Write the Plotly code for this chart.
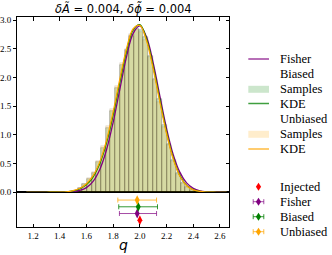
import plotly.graph_objects as go

# ---------------- data ----------------
bin_centers = [1.4475, 1.4825, 1.5175, 1.5525, 1.5875, 1.6225, 1.6575, 1.6925, 1.7275, 1.7625,
               1.7975, 1.8325, 1.8675, 1.9025, 1.9375, 1.9725, 2.0075, 2.0425, 2.0775, 2.1125,
               2.1475, 2.1825, 2.2175, 2.2525, 2.2875, 2.3225, 2.3575, 2.3925, 2.4275, 2.4625, 2.4975]
bin_width = 0.035
biased_hist = [0.005, 0.01, 0.03, 0.07, 0.14, 0.24, 0.33, 0.52, 0.78, 1.12,
               1.42, 1.82, 2.22, 2.48, 2.72, 2.85, 2.82, 2.70, 2.38, 1.98,
               1.62, 1.17, 0.85, 0.56, 0.33, 0.17, 0.09, 0.04, 0.015, 0.006, 0.002]
unbiased_hist = [0.006, 0.012, 0.03, 0.08, 0.15, 0.25, 0.36, 0.55, 0.80, 1.15,
                 1.45, 1.86, 2.25, 2.50, 2.76, 2.84, 2.80, 2.66, 2.35, 1.95,
                 1.58, 1.14, 0.82, 0.54, 0.32, 0.16, 0.085, 0.038, 0.014, 0.005, 0.002]

curve_q = [1.15, 1.20, 1.25, 1.30, 1.35, 1.40, 1.45, 1.50, 1.55, 1.60, 1.65, 1.70, 1.75, 1.80,
           1.85, 1.90, 1.95, 2.00, 2.05, 2.10, 2.15, 2.20, 2.25, 2.30, 2.35, 2.40, 2.45, 2.50,
           2.55, 2.60, 2.65]
fisher_pdf = [0, 0, 0, 0, 0.0002, 0.0008, 0.003, 0.011, 0.032, 0.082, 0.192, 0.398, 0.737, 1.218,
              1.794, 2.360, 2.769, 2.898, 2.706, 2.254, 1.675, 1.111, 0.657, 0.347, 0.163, 0.069,
              0.026, 0.0086, 0.0026, 0.0007, 0.0002]
biased_kde = [0, 0, 0, 0, 0.001, 0.002, 0.007, 0.024, 0.062, 0.135, 0.27, 0.50, 0.86, 1.35,
              1.92, 2.46, 2.83, 2.92, 2.67, 2.19, 1.61, 1.05, 0.60, 0.29, 0.12, 0.044,
              0.015, 0.004, 0.001, 0, 0]
unbiased_kde = [0, 0, 0, 0, 0.001, 0.002, 0.008, 0.028, 0.07, 0.15, 0.29, 0.53, 0.90, 1.40,
                1.97, 2.50, 2.85, 2.91, 2.64, 2.15, 1.57, 1.02, 0.58, 0.28, 0.115, 0.042,
                0.014, 0.004, 0.001, 0, 0]

# point estimates with error bars (lower panel)
est_names = ["Injected", "Fisher", "Biased", "Unbiased"]
est_q = [2.0, 1.98, 1.988, 1.98]
est_err_minus = [0, 0.133, 0.146, 0.145]
est_err_plus = [0, 0.145, 0.144, 0.145]
est_row = [1, 2, 3, 4]

x_ticks = [1.2, 1.4, 1.6, 1.8, 2.0, 2.2, 2.4, 2.6]
y_ticks = [0.0, 0.5, 1.0, 1.5, 2.0, 2.5, 3.0]
title_text = "<i>δA\u0303</i> = 0.004, <i>δϕ\u0303</i> = 0.004"

# ---------------- styles ----------------
PURPLE = "#800080"
GREEN = "#008000"
ORANGE = "#FFA500"
RED = "#FF0000"
SERIF = "Liberation Serif, Times New Roman, Times, serif"
TICKFONT = dict(family=SERIF, size=9, color="black")
LEGFONT = dict(family=SERIF, size=12.5, color="black")

fig = go.Figure()

# histograms (upper panel: x2 / y)
fig.add_trace(go.Bar(x=bin_centers, y=biased_hist, width=bin_width,
                     marker=dict(color="rgba(0,128,0,0.2)", line=dict(color="rgba(0,0,0,0.32)", width=0.6)),
                     xaxis="x2", yaxis="y", showlegend=False))
fig.add_trace(go.Bar(x=bin_centers, y=unbiased_hist, width=bin_width,
                     marker=dict(color="rgba(255,165,0,0.2)", line=dict(color="rgba(0,0,0,0.15)", width=0.6)),
                     xaxis="x2", yaxis="y", showlegend=False))
for ys, col in [(fisher_pdf, PURPLE), (biased_kde, GREEN), (unbiased_kde, ORANGE)]:
    fig.add_trace(go.Scatter(x=curve_q, y=ys, mode="lines", line=dict(color=col, width=1.3, shape="spline"),
                             xaxis="x2", yaxis="y", showlegend=False, hoverinfo="skip"))

# invisible trace for the right-side tick axis
fig.add_trace(go.Scatter(x=[1.5], y=[0], mode="markers", marker=dict(opacity=0),
                         xaxis="x2", yaxis="y3", showlegend=False, hoverinfo="skip"))

# lower panel estimates
est_colors = [RED, PURPLE, GREEN, ORANGE]
err_colors = ["rgba(255,0,0,0.7)", "rgba(128,0,128,0.7)", "rgba(0,128,0,0.8)", "rgba(255,165,0,0.75)"]
for i in range(4):
    fig.add_trace(go.Scatter(
        x=[est_q[i]], y=[est_row[i]], mode="markers",
        marker=dict(symbol="diamond-tall", size=7, color=est_colors[i], line=dict(width=0)),
        error_x=dict(type="data", symmetric=False, array=[est_err_plus[i]], arrayminus=[est_err_minus[i]],
                     color=err_colors[i], thickness=1, width=2.5, visible=est_err_plus[i] > 0),
        xaxis="x", yaxis="y2", showlegend=False, hoverinfo="skip"))

W, H = 332, 255
ML, MR, MT, MB = 17, 103, 17, 28
PW, PH = W - ML - MR, H - MT - MB


def px(xp):
    return (xp - ML) / PW


def py(yp):
    return (H - MB - yp) / PH


split = (H - MB - 192.3) / PH

axis_common = dict(showline=True, linecolor="black", linewidth=1, mirror=True, showgrid=False,
                   zeroline=False, tickcolor="black", tickwidth=0.8)

fig.update_layout(
    width=W, height=H, margin=dict(l=ML, r=MR, t=MT, b=MB, autoexpand=False),
    paper_bgcolor="white", plot_bgcolor="white", barmode="overlay", bargap=0,
    showlegend=False,
    xaxis=dict(domain=[0, 1], anchor="y2", range=[1.08, 2.6675], tickvals=x_ticks,
               ticktext=[f"{v:.1f}" for v in x_ticks], ticks="inside", ticklen=3.5,
               tickfont=TICKFONT, **axis_common),
    xaxis2=dict(domain=[0, 1], anchor="y", matches="x", side="top", range=[1.08, 2.6675],
                tickvals=x_ticks, ticks="inside", ticklen=3.5, showticklabels=False, **axis_common),
    yaxis=dict(domain=[split, 1], anchor="x2", range=[0, 3.054], tickvals=y_ticks,
               ticktext=[f"{v:.1f}" for v in y_ticks], ticks="outside", ticklen=3,
               tickfont=TICKFONT, **axis_common),
    yaxis3=dict(overlaying="y", anchor="x2", side="right", range=[0, 3.054], tickvals=y_ticks,
                ticks="inside", ticklen=3, showticklabels=False, showline=False, showgrid=False,
                zeroline=False, tickcolor="black", tickwidth=0.8),
    yaxis2=dict(domain=[0, split], anchor="x", range=[0, 5.15], showticklabels=False, ticks="",
                **axis_common),
)

annotations = [
    dict(text=title_text, x=0.5, y=py(9), xref="paper", yref="paper", showarrow=False,
         xanchor="center", yanchor="middle", font=dict(family="DejaVu Sans", size=11.5, color="black")),
    dict(text="<i>q</i>", x=px(123), y=py(245), xref="paper", yref="paper", showarrow=False,
         xanchor="center", yanchor="middle", font=dict(family="DejaVu Sans", size=14, color="black")),
]
shapes = []

TX = 277.5
LX0, LX1 = 248.3, 269

# legend: lines / patches / headers
legend_rows = [
    ("line", PURPLE, "Fisher", 59),
    ("none", None, "Biased", 74),
    ("patch", "rgba(0,128,0,0.2)", "Samples", 89.3),
    ("line", GREEN, "KDE", 103.5),
    ("none", None, "Unbiased", 119),
    ("patch", "rgba(255,165,0,0.2)", "Samples", 134.3),
    ("line", ORANGE, "KDE", 149),
]
for kind, col, label, yc in legend_rows:
    annotations.append(dict(text=label, x=px(TX), y=py(yc), xref="paper", yref="paper", showarrow=False,
                            xanchor="left", yanchor="middle", font=LEGFONT))
    if kind == "line":
        shapes.append(dict(type="line", xref="paper", yref="paper", x0=px(LX0), x1=px(LX1),
                           y0=py(yc), y1=py(yc), line=dict(color=col, width=1.5), opacity=0.75))
    elif kind == "patch":
        shapes.append(dict(type="rect", xref="paper", yref="paper", x0=px(LX0), x1=px(LX1),
                           y0=py(yc + 3.5), y1=py(yc - 3.5), line=dict(width=0), fillcolor=col))

marker_rows = [("Injected", 186.7), ("Fisher", 201.7), ("Biased", 216.7), ("Unbiased", 231.7)]
MX = 258.5
for i, (label, yc) in enumerate(marker_rows):
    annotations.append(dict(text=label, x=px(TX), y=py(yc), xref="paper", yref="paper", showarrow=False,
                            xanchor="left", yanchor="middle", font=LEGFONT))
    if i > 0:
        shapes.append(dict(type="line", xref="paper", yref="paper", x0=px(MX - 5.3), x1=px(MX + 5.3),
                           y0=py(yc), y1=py(yc), line=dict(color=err_colors[i], width=1)))
        for xe in (MX - 5.3, MX + 5.3):
            shapes.append(dict(type="line", xref="paper", yref="paper", x0=px(xe), x1=px(xe),
                               y0=py(yc - 2.5), y1=py(yc + 2.5), line=dict(color=err_colors[i], width=1)))
    shapes.append(dict(type="path", xref="paper", yref="paper", xsizemode="pixel", ysizemode="pixel",
                       xanchor=px(MX), yanchor=py(yc), path="M 0 4 L 2.6 0 L 0 -4 L -2.6 0 Z",
                       fillcolor=est_colors[i], line=dict(width=0)))

fig.update_layout(annotations=annotations, shapes=shapes)
fig.write_html("out.html", config={"displayModeBar": False},
               post_script="document.body.style.margin='0';document.body.style.padding='0';")
